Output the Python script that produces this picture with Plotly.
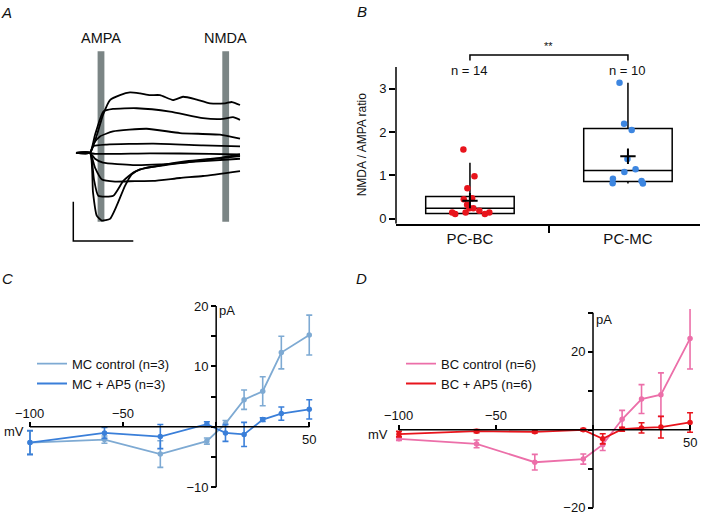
import numpy as np
import plotly.graph_objects as go

W, H = 703, 521
FONT = "Liberation Sans, Arial, Helvetica, sans-serif"

# ---------------- DATA ----------------
# Panel A: example synaptic current traces (time from stimulus, current; arbitrary units)
a_t1 = [-14, 0, 7, 13, 20, 30, 40, 50, 60, 70, 83, 93, 105, 120, 135, 142, 150]
a_i1 = [0, 0, 18.3, 38.3, 53.3, 58.3, 61, 60, 58.3, 58.3, 53.3, 56.6, 54.3, 50, 50, 51.3, 48.3]
a_t2 = [-14, 0, 5, 13.3, 23, 46.7, 80, 113, 133, 143, 150]
a_i2 = [0, 0, 18, 41.6, 44.3, 45, 41.6, 35, 34.3, 36, 33.3]
a_t3 = [-14, 0, 4, 10, 23, 56.7, 90, 130, 150]
a_i3 = [0, 0, 10, 16.6, 21.6, 24.3, 20, 18.3, 14.3]
a_t4 = [-14, 0, 3.3, 16.7, 63.3, 113, 150]
a_i4 = [0, 0, 6.6, 8.3, 9.3, 7.6, 6.6]
a_t5 = [-14, 0, 5, 60, 120, 150]
a_i5 = [0, 0, -1, -0.5, -1, -1.7]
a_t6 = [-14, 0, 5, 13, 43, 70, 110, 150]
a_i6 = [0, 0, -6, -10, -12.4, -11.7, -8.7, -6]
a_t7 = [-14, 0, 5, 12, 25, 45, 63, 90, 113, 150]
a_i7 = [0, 0, -15, -27, -29, -28.5, -28.4, -25.4, -23.4, -18.4]
a_t8 = [-14, 0, 4, 8.3, 23.3, 33.3, 43.3, 56.7, 80, 113, 150]
a_i8 = [0, 0, -27, -43.4, -43.4, -28.4, -20, -15, -11.7, -7.4, -3.4]
a_t9 = [-14, 0, 3, 6.7, 11.7, 20, 26.7, 35, 41.7, 50, 66.7, 96.7, 130, 150]
a_i9 = [0, 0, -40, -63.4, -68.4, -66.7, -53.4, -33.4, -21.7, -16.7, -13.4, -8.4, -5, -1.7]
a_window_labels = ["AMPA", "NMDA"]
a_window_t = [11, 135.7]

# Panel B: NMDA / AMPA ratio
b_categories = ["PC-BC", "PC-MC"]
bc_ratio = [1.60, 0.98, 0.70, 0.45, 0.47, 0.32, 0.24, 0.24, 0.18, 0.11, 0.14, 0.11, 0.14, 0.14]
mc_ratio = [3.14, 2.19, 2.05, 1.38, 1.14, 1.08, 0.92, 0.82, 0.81, 0.87]
b_q1 = [0.12, 0.86]
b_median = [0.24, 1.11]
b_q3 = [0.51, 2.08]
b_lowerfence = [0.10, 0.81]
b_upperfence = [1.29, 3.14]
b_ticks = [0, 1, 2, 3]

# Panels C / D: I-V relations
iv_mv = [-100, -60, -30, -5, 5, 15, 25, 35, 50]
mc_ctrl = [-2.6, -2.1, -4.5, -2.35, 0.55, 4.5, 5.9, 12.3, 15.2]
mc_ctrl_err = [1.9, 0.6, 2.2, 0.5, 0.5, 1.6, 2.4, 2.7, 3.3]
mc_ap5 = [-2.6, -1.0, -1.6, 0.45, -1.0, -1.25, 1.2, 2.2, 2.9]
mc_ap5_err = [2.0, 0.9, 2.0, 0.4, 1.4, 2.0, 0.3, 1.1, 1.6]
bc_ctrl = [-2.3, -3.6, -8.3, -7.5, -3.8, 2.7, 7.9, 9.0, 23.4]
bc_ctrl_err = [0.4, 1.0, 2.0, 1.3, 1.5, 2.3, 3.7, 5.6, 7.8]
bc_ap5 = [-1.1, -0.35, -0.5, 0.0, -2.3, 0.15, 0.5, 0.7, 1.9]
bc_ap5_err = [0.7, 0.4, 0.3, 0.3, 1.3, 0.5, 1.3, 2.8, 2.5]
c_yticks = [-10, -5, 0, 5, 10, 15, 20]
c_yticklabels = ["\u221210", "", "", "", "10", "", "20"]
d_yticks = [-20, -10, 0, 10, 20, 30]
d_yticklabels = ["\u221220", "", "", "", "20", ""]
iv_xticks = [-100, -50, 0, 50]

# ---------------- COLOURS ----------------
RED = "#e8141c"
BLUE = "#3d86e0"
LBLUE = "#7eaad3"
DBLUE = "#3a7fd9"
PINK = "#ec6fa9"


def dx(p0, p1):
    return [p0 / W, p1 / W]


def dy(top, bottom):
    return [1 - bottom / H, 1 - top / H]


def to_paper(v, dom, rng):
    return dom[0] + (v - rng[0]) / (rng[1] - rng[0]) * (dom[1] - dom[0])


# geometry
A_X = dx(60, 250); A_Y = dy(30, 250)
B_X = dx(396, 700); B_Y = dy(51.45, 225)
B_XR = [-0.468, 1.456]; B_YR = [-0.12, 3.85]
C_X = dx(22.55, 316.7); C_Y = dy(301.9, 497.1)
C_XR = [-104, 54]; C_YR = [-11, 21]
D_X = dx(391.2, 697.8); D_Y = dy(310.9, 515.7)
D_XR = [-104, 54]; D_YR = [-21, 31]

fig = go.Figure()

# ---------------- PANEL A ----------------
a_traces = [(a_t1, a_i1), (a_t2, a_i2), (a_t3, a_i3), (a_t4, a_i4), (a_t5, a_i5),
            (a_t6, a_i6), (a_t7, a_i7), (a_t8, a_i8), (a_t9, a_i9)]
for t, i in a_traces:
    fig.add_trace(go.Scatter(x=t, y=i, mode="lines", xaxis="x", yaxis="y",
                             line=dict(color="black", width=1.8, shape="spline", smoothing=0.5),
                             showlegend=False, hoverinfo="skip"))

shapes = []
annotations = []


def txt_ann(x, y, text, size=13, xanchor="center", yanchor="middle", xref="paper", yref="paper", **kw):
    annotations.append(dict(x=x, y=y, xref=xref, yref=yref, text=text, showarrow=False,
                            xanchor=xanchor, yanchor=yanchor,
                            font=dict(size=size, color="#111"), **kw))


for lab, tw in zip(a_window_labels, a_window_t):
    shapes.append(dict(type="rect", xref="x", yref="y", x0=tw - 3.4, x1=tw + 3.4,
                       y0=-69.7, y1=102.6, fillcolor="#7b8585", line=dict(width=0), layer="below"))
    txt_ann(tw, 115.6, lab, size=14.5, xref="x", yref="y")
# scale bar
shapes.append(dict(type="path", xref="x", yref="y", path="M -16.7,-49.4 L -16.7,-89 L 43.3,-89",
                   line=dict(color="black", width=1.5)))

# ---------------- PANEL B ----------------
fig.add_trace(go.Box(x=[0, 1], q1=b_q1, median=b_median, q3=b_q3,
                     lowerfence=b_lowerfence, upperfence=b_upperfence,
                     xaxis="x2", yaxis="y2", width=0.56, whiskerwidth=0,
                     line=dict(color="black", width=1.5), fillcolor="rgba(0,0,0,0)",
                     boxpoints=False, showlegend=False, hoverinfo="skip"))
for k, (vals, col) in enumerate([(bc_ratio, RED), (mc_ratio, BLUE)]):
    fig.add_trace(go.Box(y=vals, x0=k, xaxis="x2", yaxis="y2", width=0.56,
                         boxpoints="all", jitter=0.65, pointpos=0,
                         marker=dict(color=col, size=6.5),
                         line=dict(color="rgba(0,0,0,0)", width=0),
                         fillcolor="rgba(0,0,0,0)", showlegend=False, hoverinfo="skip"))
    txt_ann(k, 3.43, f"n = {len(vals)}", xref="x2", yref="y2")
fig.add_trace(go.Scatter(x=[0, 1], y=[float(np.mean(bc_ratio)), float(np.mean(mc_ratio))],
                         mode="markers", xaxis="x2", yaxis="y2",
                         marker=dict(symbol="cross-thin", size=11, line=dict(color="black", width=2)),
                         showlegend=False, hoverinfo="skip"))
shapes.append(dict(type="path", xref="x2", yref="y2", path="M 0,3.65 L 0,3.78 L 1,3.78 L 1,3.65",
                   line=dict(color="black", width=1.5)))
txt_ann(to_paper(0.5, B_X, B_XR), to_paper(3.99, B_Y, B_YR), "**", size=11)
shapes.append(dict(type="line", xref="x2 domain", yref="y2", x0=0, x1=0, y0=-0.12, y1=3.5,
                   line=dict(color="black", width=1.5)))
txt_ann(361.7 / W, 1 - 145 / H, "NMDA / AMPA ratio", size=12, textangle=-90)

# ---------------- PANELS C & D ----------------
def iv_panel(xname, yname, ys, legname):
    for (vals, err, col, name) in ys:
        fig.add_trace(go.Scatter(x=iv_mv, y=vals, mode="lines", name=name,
                                 xaxis=xname, yaxis=yname, legend=legname,
                                 line=dict(color=col, width=1.8), hoverinfo="skip"))
    for (vals, err, col, name) in ys:
        fig.add_trace(go.Scatter(x=iv_mv, y=vals, mode="markers", xaxis=xname, yaxis=yname,
                                 marker=dict(color=col, size=5.5),
                                 error_y=dict(type="data", array=err, color=col, thickness=1.6, width=3),
                                 showlegend=False, hoverinfo="skip"))


iv_panel("x3", "y3", [(mc_ctrl, mc_ctrl_err, LBLUE, "MC control (n=3)"),
                      (mc_ap5, mc_ap5_err, DBLUE, "MC + AP5 (n=3)")], "legend")
iv_panel("x4", "y4", [(bc_ctrl, bc_ctrl_err, PINK, "BC control (n=6)"),
                      (bc_ap5, bc_ap5_err, RED, "BC + AP5 (n=6)")], "legend2")

for (xn, yn, ytop, ybot) in [("x3", "y3", 20, -10), ("x4", "y4", 30, -20)]:
    shapes.append(dict(type="line", xref=xn, yref=yn, x0=-100, x1=50, y0=0, y1=0,
                       line=dict(color="black", width=1.5)))
    shapes.append(dict(type="line", xref=xn, yref=yn, x0=0, x1=0, y0=ybot, y1=ytop,
                       line=dict(color="black", width=1.5)))

# tick label annotations for IV x axes and units
for (XD, XR, YD, YR, ytop, pay) in [(C_X, C_XR, C_Y, C_YR, 20, 5), (D_X, D_XR, D_Y, D_YR, 30, 7)]:
    y0p = to_paper(0, YD, YR)
    for xv, txt in [(-100, "\u2212100"), (-50, "\u221250")]:
        txt_ann(to_paper(xv, XD, XR), y0p + 14 / H, txt)
    txt_ann(to_paper(50, XD, XR), y0p - 13 / H, "50")
    txt_ann(to_paper(0, XD, XR) + 1 / W, to_paper(ytop, YD, YR) - pay / H, "pA", xanchor="left")
# "mV" unit labels (C sits against the left edge, D just left of the -100 tick)
txt_ann(1.5 / W, to_paper(0, C_Y, C_YR) - 4.5 / H, "mV", xanchor="left")
txt_ann(to_paper(-100, D_X, D_XR) - 9 / W, to_paper(0, D_Y, D_YR) - 4.5 / H, "mV", xanchor="right")

# panel letters
for txt, px, py in [("A", 6.7, 11.7), ("B", 362, 10.3), ("C", 7, 280), ("D", 361, 280)]:
    txt_ann(px / W, 1 - py / H, f"<i>{txt}</i>", size=15)

axis_font = dict(size=13, color="#111", family=FONT)

fig.update_layout(
    width=W, height=H, margin=dict(l=0, r=0, t=0, b=0),
    paper_bgcolor="white", plot_bgcolor="rgba(0,0,0,0)",
    font=dict(family=FONT, color="#111"),
    boxmode="overlay",
    xaxis=dict(domain=A_X, range=[-30, 160], visible=False, anchor="y"),
    yaxis=dict(domain=A_Y, range=[-96.7, 123.3], visible=False, anchor="x"),
    xaxis2=dict(domain=B_X, range=B_XR, anchor="y2", showgrid=False, zeroline=False,
                showline=True, linecolor="black", linewidth=1.5,
                tickvals=[0, 1], ticktext=b_categories, ticks="", tickfont=dict(size=15, color="#111"),
                minor=dict(tickvals=[0.5], ticks="outside", ticklen=7, tickcolor="black", tickwidth=1.5)),
    yaxis2=dict(domain=B_Y, range=B_YR, anchor="x2", showgrid=False, zeroline=False,
                showline=False, tickvals=b_ticks, ticks="outside", ticklen=6, tickwidth=1.5,
                tickcolor="black", tickfont=axis_font),
    xaxis3=dict(domain=C_X, range=C_XR, anchor="free", position=to_paper(0, C_Y, C_YR),
                showgrid=False, zeroline=False, showline=False, tickvals=iv_xticks,
                showticklabels=False, ticks="inside", ticklen=5, tickwidth=1.5, tickcolor="black"),
    yaxis3=dict(domain=C_Y, range=C_YR, anchor="free", position=to_paper(0, C_X, C_XR),
                showgrid=False, zeroline=False, showline=False, tickvals=c_yticks,
                ticktext=c_yticklabels, ticks="outside", ticklen=5, tickwidth=1.5,
                tickcolor="black", tickfont=axis_font),
    xaxis4=dict(domain=D_X, range=D_XR, anchor="free", position=to_paper(0, D_Y, D_YR),
                showgrid=False, zeroline=False, showline=False, tickvals=iv_xticks,
                showticklabels=False, ticks="inside", ticklen=5, tickwidth=1.5, tickcolor="black"),
    yaxis4=dict(domain=D_Y, range=D_YR, anchor="free", position=to_paper(0, D_X, D_XR),
                showgrid=False, zeroline=False, showline=False, tickvals=d_yticks,
                ticktext=d_yticklabels, ticks="outside", ticklen=5, tickwidth=1.5,
                tickcolor="black", tickfont=axis_font),
    legend=dict(x=32 / W, y=1 - 351 / H, xanchor="left", yanchor="top", bgcolor="rgba(0,0,0,0)",
                font=dict(size=13, color="#111"), tracegroupgap=0),
    legend2=dict(x=401 / W, y=1 - 351 / H, xanchor="left", yanchor="top", bgcolor="rgba(0,0,0,0)",
                 font=dict(size=13, color="#111"), tracegroupgap=0),
    shapes=shapes,
    annotations=annotations,
)

fig.write_html("out.html", config={"displayModeBar": False},
               post_script="document.body.style.margin='0px';document.body.style.padding='0px';")
